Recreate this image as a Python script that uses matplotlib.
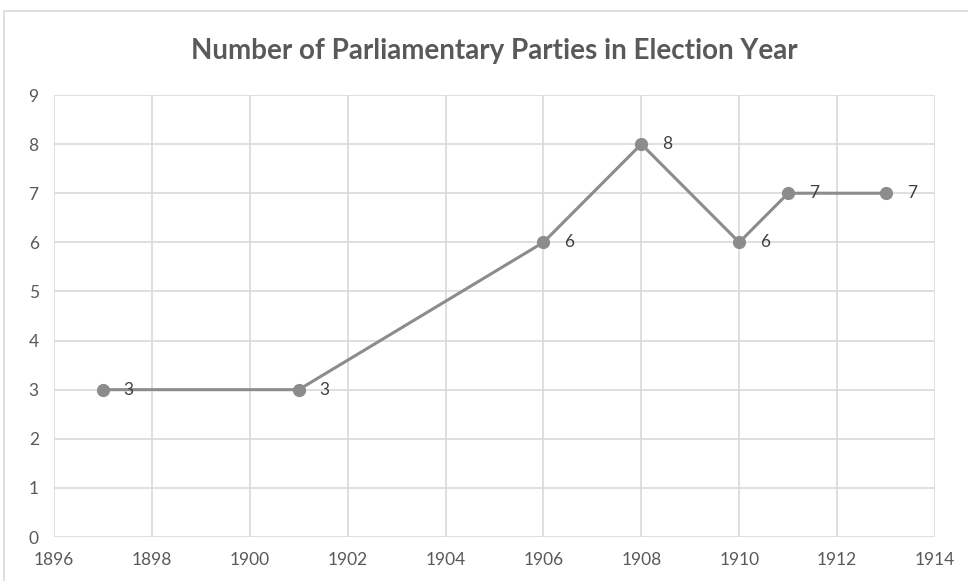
import matplotlib.pyplot as plt
from matplotlib.patches import Rectangle

years = [1897, 1901, 1906, 1908, 1910, 1911, 1913]
parties = [3, 3, 6, 8, 6, 7, 7]
x_ticks = list(range(1896, 1915, 2))
y_ticks = list(range(0, 10))

plt.rcParams['font.family'] = ['Lato', 'DejaVu Sans']

fig = plt.figure(figsize=(9.68, 5.81), dpi=100)
ax = fig.add_axes([54 / 968, 1 - 537 / 581, (935 - 54) / 968, (537 - 95) / 581])

# chart frame
fig.patches.append(Rectangle((4 / 968, -0.1), 1.2, (581 - 11) / 581 + 0.1,
                             transform=fig.transFigure, fill=False,
                             edgecolor='#d9d9d9', linewidth=1.2))

ax.plot(years, parties, color='#8c8c8c', linewidth=2.2, marker='o',
        markersize=8.5, markerfacecolor='#8c8c8c', markeredgecolor='#8c8c8c')
for x, y in zip(years, parties):
    ax.annotate(str(y), (x, y), xytext=(15, 0), textcoords='offset points',
                ha='left', va='center', fontsize=12.5, color='#404040')

ax.set_xlim(1896, 1914)
ax.set_ylim(0, 9)
ax.set_xticks(x_ticks)
ax.set_yticks(y_ticks)
ax.grid(True, color='#d9d9d9', linewidth=1.2)
ax.set_axisbelow(True)
for s in ax.spines.values():
    s.set_visible(False)
ax.tick_params(length=0, labelsize=12.5, labelcolor='#595959', pad=11)

fig.text(494 / 968, 1 - 51 / 581, 'Number of Parliamentary Parties in Election Year',
         ha='center', va='center', fontsize=20, fontweight='bold', color='#595959')

fig.savefig('out.png', dpi=100)
